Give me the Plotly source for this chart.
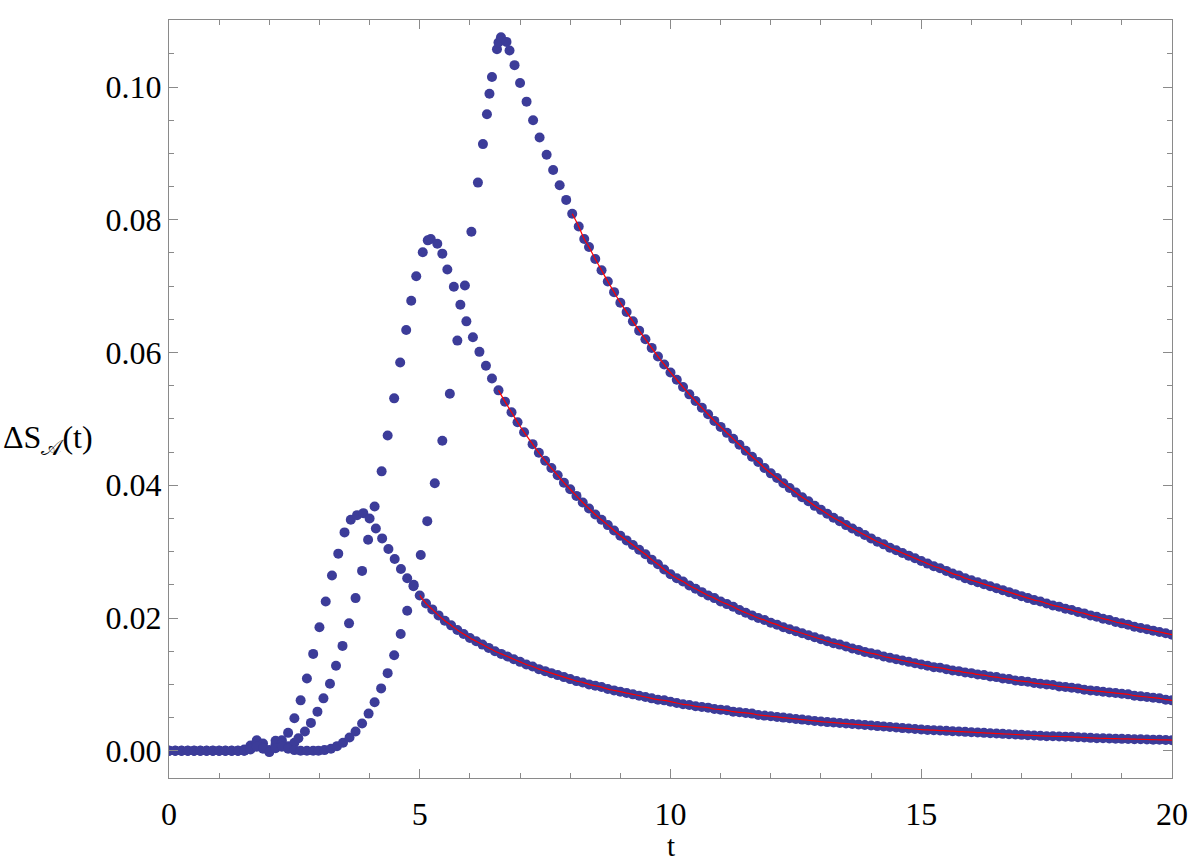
import plotly.graph_objects as go

# ---------------- data ----------------
# lower curve: sampled every 0.125 from t=0 to 20
s_low = [
    0, 0, 0, 0, 0, 0, 0, 0, 0, 0, 0, 0,
    0.0002, 0.0008, 0.0016, 0.0011, -0.0001, 0.0010, 0.0016, 0.0027,
    0.0049, 0.0076, 0.0109, 0.0146, 0.0186, 0.0225, 0.0264, 0.0297,
    0.0329, 0.0348, 0.0355, 0.0358, 0.0350, 0.0335, 0.0320, 0.0304,
    0.0289, 0.0274, 0.0260, 0.0248, 0.0234, 0.0222, 0.0213, 0.0204,
    0.0196, 0.0189, 0.0182, 0.0176, 0.0170, 0.0165, 0.0160, 0.0155,
    0.0150, 0.0146, 0.0142, 0.0138, 0.0134, 0.0130, 0.0127, 0.0123,
    0.0120, 0.0117, 0.0114, 0.0111, 0.0108, 0.0105, 0.0103, 0.0100,
    0.0098, 0.0096, 0.0093, 0.0091, 0.0089, 0.0087, 0.0085, 0.0083,
    0.0081, 0.0079, 0.0077, 0.0076, 0.0074, 0.0072, 0.0070, 0.0069,
    0.0067, 0.0066, 0.0065, 0.0063, 0.0062, 0.0061, 0.0059, 0.0058,
    0.0057, 0.0056, 0.0054, 0.0053, 0.0052, 0.0051, 0.0050, 0.0049,
    0.0048, 0.0047, 0.0046, 0.0045, 0.0044, 0.00432, 0.00425, 0.00418,
    0.0041, 0.00403, 0.00395, 0.00388, 0.0038, 0.00372, 0.00365, 0.00358,
    0.0035, 0.00342, 0.00335, 0.00328, 0.0032, 0.00315, 0.0031, 0.00305,
    0.0030, 0.00295, 0.0029, 0.00285, 0.0028, 0.00275, 0.0027, 0.00265,
    0.0026, 0.00255, 0.0025, 0.00245, 0.0024, 0.00235, 0.0023, 0.00225,
    0.0022, 0.00218, 0.00215, 0.00213, 0.0021, 0.00205, 0.0020, 0.00195,
    0.0019, 0.00188, 0.00185, 0.00183, 0.0018, 0.00178, 0.00175, 0.00173,
    0.0017, 0.00168, 0.00165, 0.00163, 0.0016,
]
t_low = [0.125 * i for i in range(len(s_low))]

# middle curve
t_mid_flat = [0.125 * i for i in range(21)]
s_mid_flat = [0, 0, 0, 0, 0, 0, 0, 0, 0, 0, 0, 0, 0,
              0.0003, 0.0010, 0.0005, 0.0001, 0.0015, 0.0011, 0.0007, 0.0012]
t_mid_rise = [2.58, 2.71, 2.83, 2.96, 3.08, 3.21, 3.33, 3.46, 3.59, 3.72,
              3.85, 3.97, 4.10, 4.24, 4.36, 4.49, 4.61, 4.73, 4.83, 4.93,
              5.06, 5.16, 5.22, 5.35, 5.45, 5.55, 5.68, 5.81, 5.93, 6.06,
              6.19, 6.32, 6.44, 6.57, 6.70, 6.83, 6.95, 7.08]
s_mid_rise = [0.0019, 0.0029, 0.0042, 0.0059, 0.0079, 0.0101, 0.0128, 0.0158, 0.0192, 0.0230,
              0.0271, 0.0318, 0.0368, 0.0421, 0.0475, 0.0531, 0.0585, 0.0634, 0.0678, 0.0715,
              0.0751, 0.0769, 0.0771, 0.0764, 0.0749, 0.0725, 0.0699, 0.0672, 0.0647, 0.0623,
              0.0601, 0.0580, 0.0561, 0.0543, 0.0526, 0.0510, 0.0495, 0.0480]
s_mid_tail = [
    0.0462, 0.0449, 0.0437, 0.0426, 0.0415, 0.0404,
    0.0394, 0.0384, 0.0374, 0.0365, 0.0356, 0.0348, 0.0340, 0.0332,
    0.0324, 0.0317, 0.0310, 0.0303, 0.0296, 0.0288, 0.0281, 0.0273,
    0.0266, 0.0260, 0.0255, 0.0249, 0.0244, 0.0239, 0.0234, 0.0230,
    0.0225, 0.0221, 0.0217, 0.0212, 0.0208, 0.0204, 0.0200, 0.0197,
    0.0193, 0.0190, 0.0186, 0.0183, 0.0180, 0.0177, 0.0174, 0.0171,
    0.0168, 0.0165, 0.0162, 0.0160, 0.0157, 0.0154, 0.0152, 0.0149,
    0.0147, 0.0145, 0.0142, 0.0140, 0.0138, 0.0136, 0.0134, 0.0132,
    0.0130, 0.0128, 0.0126, 0.0125, 0.0123, 0.0121, 0.0120, 0.0118,
    0.0117, 0.0115, 0.0114, 0.0112, 0.0111, 0.0109, 0.0108, 0.0106,
    0.0105, 0.0104, 0.0102, 0.0101, 0.0100, 0.0099, 0.0097, 0.0096,
    0.0095, 0.0094, 0.0092, 0.0091, 0.0090, 0.0089, 0.0088, 0.0087,
    0.0086, 0.0085, 0.0083, 0.0082, 0.0081, 0.0080, 0.0079, 0.0077,
    0.0076,
]
t_mid_tail = [7.25 + 0.125 * i for i in range(len(s_mid_tail))]

# upper curve
t_up_flat = [0.125 * i for i in range(24)]
s_up_flat = [0, 0, 0, 0, 0, 0, 0, 0, 0, 0, 0, 0, 0,
             0.0002, 0.0006, 0.0003, -0.0002, 0.0004, 0.0006, 0.0003, 0.0001, 0, 0, 0]
t_up_rise = [2.98, 3.10, 3.23, 3.35, 3.47, 3.60, 3.72, 3.85, 3.98, 4.10,
             4.23, 4.36, 4.49, 4.62, 4.75, 4.88, 5.02, 5.15, 5.30, 5.45,
             5.60, 5.75, 5.90, 6.03, 6.16, 6.26, 6.34, 6.39, 6.44, 6.54,
             6.57, 6.62, 6.73, 6.79, 6.89, 7.00, 7.13, 7.26, 7.39, 7.53,
             7.66, 7.79, 7.92, 8.04, 8.17, 8.28]
s_up_rise = [0.0000, 0.0001, 0.0003, 0.0007, 0.0012, 0.0020, 0.0029, 0.0041, 0.0056, 0.0073,
             0.0094, 0.0117, 0.0144, 0.0176, 0.0211, 0.0250, 0.0295, 0.0346, 0.0403, 0.0467,
             0.0538, 0.0618, 0.0701, 0.0782, 0.0856, 0.0914, 0.0959, 0.0990, 0.1015, 0.1057,
             0.1067, 0.1075, 0.1068, 0.1055, 0.1033, 0.1006, 0.0978, 0.0950, 0.0924, 0.0898,
             0.0875, 0.0852, 0.0830, 0.0809, 0.0790, 0.0771]
s_up_tail = [
    0.0759, 0.0741, 0.0724, 0.0707, 0.0691,
    0.0675, 0.0661, 0.0647, 0.0633, 0.0620, 0.0607, 0.0594, 0.0582,
    0.0570, 0.0559, 0.0548, 0.0537, 0.0527, 0.0517, 0.0507, 0.0497,
    0.0488, 0.0479, 0.0470, 0.0461, 0.0452, 0.0443, 0.0435, 0.0426,
    0.0418, 0.0411, 0.0403, 0.0396, 0.0389, 0.0382, 0.0376, 0.0369,
    0.0363, 0.0357, 0.0351, 0.0346, 0.0340, 0.0335, 0.0330, 0.0325,
    0.0320, 0.0315, 0.0311, 0.0306, 0.0302, 0.0298, 0.0294, 0.0290,
    0.0286, 0.0282, 0.0278, 0.0275, 0.0271, 0.0267, 0.0264, 0.0260,
    0.0257, 0.0254, 0.0251, 0.0248, 0.0245, 0.0242, 0.0239, 0.0236,
    0.0233, 0.0230, 0.0227, 0.0225, 0.0222, 0.0219, 0.0217, 0.0214,
    0.0212, 0.0209, 0.0207, 0.0204, 0.0202, 0.0199, 0.0197, 0.0194,
    0.0192, 0.0190, 0.0187, 0.0185, 0.0183, 0.0181, 0.0179, 0.0177,
    0.0175,
]
t_up_tail = [8.375 + 0.125 * i for i in range(len(s_up_tail))]

# start of the fitted (red) tail for each curve
fit_start = {"low": 5.0, "mid": 6.5, "up": 8.0}

# ---------------- assemble ----------------
t_mid = t_mid_flat + t_mid_rise + t_mid_tail
s_mid = s_mid_flat + s_mid_rise + s_mid_tail
t_up = t_up_flat + t_up_rise + t_up_tail
s_up = s_up_flat + s_up_rise + s_up_tail

series = {"low": (t_low, s_low), "mid": (t_mid, s_mid), "up": (t_up, s_up)}

POINT = "#3c3c99"
FONT = "Liberation Serif, DejaVu Serif, serif"
FRAME = "#8a8a8a"

fig = go.Figure()
for name, (tt, ss) in series.items():
    fig.add_trace(go.Scatter(x=tt, y=ss, mode="markers",
                             marker=dict(size=10, color=POINT, line=dict(width=0)),
                             showlegend=False, hoverinfo="skip"))
for name, (tt, ss) in series.items():
    ft = [a for a in tt if a >= fit_start[name]]
    fs = [b for a, b in zip(tt, ss) if a >= fit_start[name]]
    fig.add_trace(go.Scatter(x=ft, y=fs, mode="lines",
                             line=dict(color="#ff0000", width=1.2, shape="spline", smoothing=1.0),
                             showlegend=False, hoverinfo="skip"))

axis_common = dict(
    showgrid=False, zeroline=False, showline=True, linecolor=FRAME, linewidth=1,
    mirror="ticks", ticks="inside", ticklen=9, tickwidth=1, tickcolor=FRAME,
    tickfont=dict(family=FONT, size=32, color="black"),
)
fig.update_xaxes(range=[0, 20], tick0=0, dtick=5, ticklabelstandoff=8,
                 minor=dict(ticks="inside", ticklen=5, dtick=1, tickcolor=FRAME, tickwidth=1),
                 **axis_common)
fig.update_yaxes(range=[-0.0041, 0.1101], tick0=0, dtick=0.02, tickformat=".2f",
                 ticklabelstandoff=0,
                 minor=dict(ticks="inside", ticklen=5, dtick=0.005, tickcolor=FRAME, tickwidth=1),
                 **axis_common)

fig.add_annotation(text="t", xref="paper", yref="paper", x=0.5, y=-0.1135,
                   xanchor="center", yanchor="bottom", showarrow=False,
                   font=dict(family=FONT, size=29, color="black"))
fig.add_annotation(text="ΔS<sub>𝒜</sub>(t)", xref="paper", yref="paper", x=-0.1673, y=0.446,
                   xanchor="left", yanchor="middle", showarrow=False,
                   font=dict(family=FONT, size=32, color="black"))

fig.update_layout(width=1200, height=864, margin=dict(l=169, r=21, t=20, b=86),
                  paper_bgcolor="white", plot_bgcolor="white")

fig.write_html("out.html")
